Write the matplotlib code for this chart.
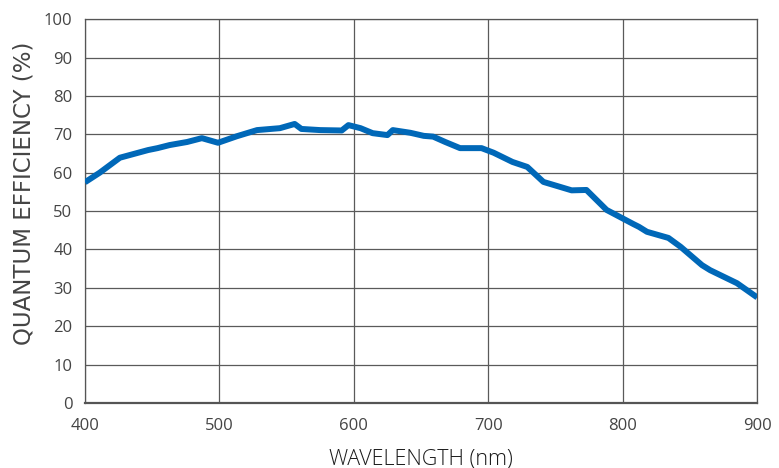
import matplotlib.pyplot as plt

# quantum efficiency curve
wavelength = [400, 411, 426, 447, 454, 463, 476, 487, 499, 513, 528, 545, 556,
              561, 575, 591, 596, 605, 614, 625, 629, 642, 652, 659, 668, 679,
              695, 704, 718, 729, 733, 741, 762, 773, 788, 808, 812, 818, 834,
              843, 859, 865, 885, 900]
qe = [57.5, 60.0, 63.9, 65.9, 66.4, 67.2, 68.0, 69.0, 67.8, 69.5, 71.1, 71.6,
      72.7, 71.4, 71.1, 71.0, 72.4, 71.6, 70.3, 69.8, 71.1, 70.4, 69.6, 69.4,
      68.0, 66.4, 66.4, 65.2, 62.8, 61.5, 60.2, 57.6, 55.4, 55.5, 50.3, 46.6,
      45.9, 44.6, 43.0, 40.7, 35.9, 34.6, 31.2, 27.5]

x_ticks = [400, 500, 600, 700, 800, 900]
y_ticks = list(range(0, 101, 10))

plt.rcParams['font.family'] = ['Open Sans', 'DejaVu Sans']

fig = plt.figure(figsize=(7.79, 4.68), dpi=100)
ax = fig.add_axes([0.109, 0.139, 0.863, 0.820])

ax.plot(wavelength, qe, color='#0068b8', lw=4.3, solid_capstyle='butt',
        solid_joinstyle='round', zorder=3)

ax.set_xlim(400, 900)
ax.set_ylim(0, 100)
ax.set_xticks(x_ticks)
ax.set_yticks(y_ticks)
ax.grid(True, color='#5a5a5a', lw=0.9)
ax.tick_params(length=0, labelsize=12, colors='#444444')
ax.tick_params(axis='x', pad=11)
ax.tick_params(axis='y', pad=9)
for s in ax.spines.values():
    s.set_color('#555555')
    s.set_linewidth(0.9)
ax.spines['bottom'].set_linewidth(1.6)

ax.set_xlabel('WAVELENGTH (nm)', fontsize=15.5, color='#1a1a1a', labelpad=10,
              fontweight='light')
ax.set_ylabel('QUANTUM EFFICIENCY (%)', fontsize=16.5, color='#444444',
              family=['DejaVu Sans'])
# the y title sits a little above the middle of the axes in the reference
ax.yaxis.set_label_coords(-0.074, 0.545)

fig.savefig('out.png', dpi=100)
